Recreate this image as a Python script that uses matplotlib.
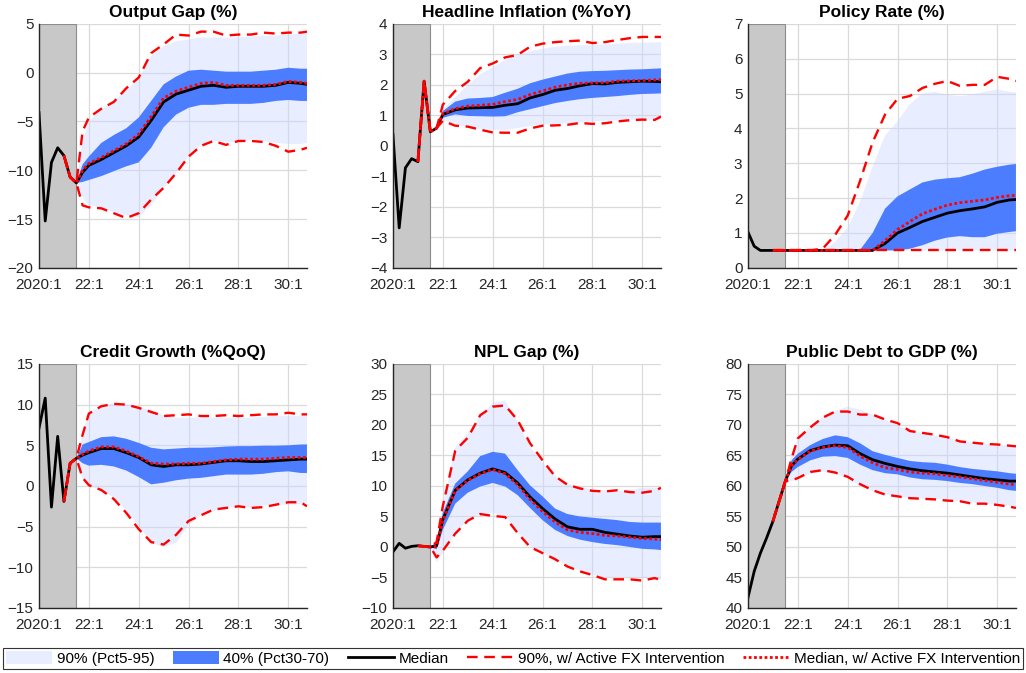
import matplotlib
matplotlib.use("Agg")
from matplotlib import pyplot as plt
from matplotlib.patches import Patch
from matplotlib.lines import Line2D

plt.rc("font", family=["Liberation Sans", "DejaVu Sans"], size=11)

# quarter index: 0 = 2020Q1 ... 43 = 2030Q4
hist_q = [0, 1, 2, 3, 4, 5, 6]
fcst_q = [6, 7, 8, 10, 12, 14, 16, 18, 20, 22, 24, 26, 28, 30, 32, 34, 36, 38, 40, 42, 43]
fx_hist_q = [4, 5]   # the FX-intervention lines also trace the last history points
tick_q = [0, 8, 16, 24, 32, 40]
tick_labels = ["2020:1", "22:1", "24:1", "26:1", "28:1", "30:1"]

# Output gap
gap_hist = [-4.1, -15.2, -9.2, -7.7, -8.5, -10.7, -11.3]
gap_p95 = [-11.3, -7.0, -5.0, -3.8, -2.9, -1.8, -0.6, 1.7, 2.7, 3.2, 3.4, 3.6, 3.6, 3.6, 3.6, 3.7, 3.8, 3.8, 3.9, 4.0, 4.0]
gap_p5 = [-11.3, -12.8, -13.6, -13.8, -14.3, -14.6, -14.8, -13.6, -11.8, -10.3, -8.6, -7.4, -7.0, -7.1, -7.1, -6.9, -7.0, -7.2, -7.3, -7.3, -7.2]
gap_p70 = [-11.3, -9.4, -8.6, -7.2, -6.4, -5.7, -4.6, -2.9, -1.2, -0.4, 0.2, 0.3, 0.2, 0.1, 0.1, 0.1, 0.2, 0.3, 0.5, 0.4, 0.4]
gap_p30 = [-11.3, -11.2, -11.0, -10.6, -10.1, -9.6, -9.2, -7.7, -5.6, -4.3, -3.6, -3.3, -3.3, -3.2, -3.2, -3.2, -3.1, -2.9, -2.8, -2.9, -2.9]
gap_med = [-11.3, -10.2, -9.5, -8.9, -8.2, -7.5, -6.6, -4.9, -3.0, -2.2, -1.8, -1.4, -1.3, -1.5, -1.4, -1.4, -1.4, -1.3, -1.0, -1.1, -1.2]
gap_fx_hi = [-11.3, -6.0, -4.6, -3.7, -3.0, -1.6, -0.5, 2.0, 2.9, 3.9, 3.8, 4.2, 4.2, 3.8, 3.9, 3.9, 4.1, 4.0, 4.1, 4.1, 4.2]
gap_fx_lo = [-11.3, -13.6, -13.8, -13.9, -14.4, -14.9, -14.4, -13.0, -11.8, -10.3, -8.6, -7.5, -7.0, -7.4, -7.0, -7.0, -7.1, -7.5, -8.1, -7.9, -7.7]
gap_fx_med = [-11.3, -10.0, -9.3, -8.7, -8.0, -7.3, -6.3, -4.5, -2.6, -1.9, -1.5, -1.1, -1.0, -1.3, -1.3, -1.3, -1.3, -1.2, -0.9, -1.0, -1.1]

# Headline inflation
infl_hist = [0.37, -2.69, -0.72, -0.42, -0.52, 2.12, 0.46]
infl_p95 = [0.46, 0.58, 1.19, 1.6, 1.98, 2.35, 2.58, 2.82, 3.0, 3.1, 3.18, 3.25, 3.28, 3.3, 3.3, 3.32, 3.35, 3.37, 3.38, 3.39, 3.4]
infl_p5 = [0.46, 0.58, 0.86, 0.7, 0.6, 0.55, 0.53, 0.52, 0.58, 0.65, 0.7, 0.72, 0.74, 0.76, 0.8, 0.82, 0.84, 0.85, 0.86, 0.86, 0.86]
infl_p70 = [0.46, 0.58, 1.14, 1.45, 1.55, 1.57, 1.6, 1.74, 1.87, 2.05, 2.17, 2.27, 2.37, 2.43, 2.45, 2.46, 2.48, 2.5, 2.51, 2.53, 2.54]
infl_p30 = [0.46, 0.58, 0.92, 1.03, 0.98, 0.97, 0.96, 0.97, 1.1, 1.2, 1.3, 1.4, 1.47, 1.53, 1.57, 1.6, 1.63, 1.67, 1.7, 1.71, 1.72]
infl_med = [0.46, 0.58, 1.03, 1.18, 1.24, 1.25, 1.26, 1.33, 1.38, 1.57, 1.68, 1.82, 1.88, 1.97, 2.04, 2.03, 2.08, 2.1, 2.12, 2.11, 2.1]
infl_fx_hi = [0.46, 0.58, 1.35, 1.8, 2.1, 2.55, 2.7, 2.9, 2.98, 3.25, 3.35, 3.4, 3.43, 3.45, 3.37, 3.4, 3.47, 3.53, 3.57, 3.57, 3.57]
infl_fx_lo = [0.46, 0.58, 0.82, 0.66, 0.63, 0.53, 0.44, 0.43, 0.43, 0.57, 0.66, 0.67, 0.69, 0.75, 0.72, 0.74, 0.8, 0.84, 0.86, 0.85, 0.96]
infl_fx_med = [0.46, 0.58, 1.05, 1.22, 1.3, 1.33, 1.36, 1.45, 1.52, 1.68, 1.8, 1.92, 2.0, 2.05, 2.06, 2.07, 2.12, 2.13, 2.14, 2.16, 2.17]

# Policy rate
pol_hist = [1.03, 0.62, 0.5, 0.5, 0.5, 0.5, 0.5]
pol_p95 = [0.5, 0.5, 0.5, 0.5, 0.5, 0.75, 1.15, 1.9, 2.9, 3.8, 4.2, 4.7, 5.0, 5.05, 4.96, 4.92, 4.97, 5.05, 5.12, 5.05, 5.03]
pol_p5 = [0.5, 0.5, 0.5, 0.5, 0.5, 0.5, 0.5, 0.5, 0.5, 0.5, 0.5, 0.5, 0.5, 0.5, 0.5, 0.5, 0.5, 0.5, 0.5, 0.5, 0.5]
pol_p70 = [0.5, 0.5, 0.5, 0.5, 0.5, 0.5, 0.5, 0.52, 1.0, 1.7, 2.05, 2.25, 2.45, 2.53, 2.57, 2.6, 2.7, 2.82, 2.9, 2.96, 2.98]
pol_p30 = [0.5, 0.5, 0.5, 0.5, 0.5, 0.5, 0.5, 0.5, 0.5, 0.5, 0.5, 0.55, 0.65, 0.78, 0.87, 0.91, 0.88, 0.88, 0.98, 1.03, 1.05]
pol_med = [0.5, 0.5, 0.5, 0.5, 0.5, 0.5, 0.5, 0.5, 0.5, 0.7, 1.0, 1.16, 1.33, 1.45, 1.57, 1.64, 1.69, 1.75, 1.88, 1.95, 1.96]
pol_fx_hi = [0.5, 0.5, 0.5, 0.5, 0.55, 0.95, 1.5, 2.5, 3.6, 4.4, 4.85, 4.93, 5.16, 5.28, 5.36, 5.22, 5.25, 5.25, 5.48, 5.42, 5.36]
pol_fx_lo = [0.5, 0.5, 0.5, 0.5, 0.5, 0.5, 0.5, 0.5, 0.5, 0.5, 0.5, 0.5, 0.5, 0.5, 0.5, 0.5, 0.5, 0.5, 0.5, 0.5, 0.5]
pol_fx_med = [0.5, 0.5, 0.5, 0.5, 0.5, 0.5, 0.5, 0.5, 0.5, 0.78, 1.1, 1.33, 1.55, 1.68, 1.8, 1.87, 1.91, 1.95, 2.02, 2.07, 2.08]

# Credit growth
cred_hist = [7.1, 10.8, -2.6, 6.1, -1.9, 2.8, 3.4]
cred_p95 = [3.4, 6.5, 9.0, 9.8, 10.2, 10.1, 9.7, 9.3, 8.7, 8.4, 8.4, 8.4, 8.4, 8.4, 8.4, 8.4, 8.5, 8.6, 8.6, 8.6, 8.6]
cred_p5 = [3.4, 0.9, 0.0, -0.5, -1.4, -3.0, -4.9, -7.0, -7.5, -7.0, -4.8, -3.6, -3.1, -2.7, -2.5, -2.7, -2.4, -2.3, -2.3, -2.2, -2.1]
cred_p70 = [3.4, 5.1, 5.4, 6.0, 6.1, 5.8, 5.3, 4.7, 4.5, 4.6, 4.7, 4.7, 4.75, 4.85, 4.9, 4.9, 4.95, 4.95, 5.0, 5.1, 5.1]
cred_p30 = [3.4, 2.8, 2.5, 2.6, 2.4, 1.9, 1.1, 0.2, 0.4, 0.7, 0.9, 1.0, 1.2, 1.4, 1.4, 1.4, 1.5, 1.7, 1.8, 1.6, 1.6]
cred_med = [3.4, 3.8, 4.1, 4.6, 4.6, 4.1, 3.5, 2.6, 2.4, 2.6, 2.6, 2.7, 2.9, 3.1, 3.1, 3.0, 3.0, 3.1, 3.2, 3.3, 3.3]
cred_fx_hi = [3.4, 6.3, 8.9, 9.8, 10.1, 10.0, 9.6, 9.1, 8.6, 8.7, 8.8, 8.6, 8.6, 8.7, 8.6, 8.7, 8.8, 8.8, 9.0, 8.8, 8.8]
cred_fx_lo = [3.4, 1.0, 0.1, -0.5, -1.6, -3.3, -5.3, -6.9, -7.2, -6.0, -4.3, -3.6, -2.9, -2.7, -2.5, -2.7, -2.6, -2.3, -2.0, -2.0, -2.5]
cred_fx_med = [3.4, 3.9, 4.3, 4.8, 4.8, 4.3, 3.6, 2.8, 2.7, 2.7, 2.8, 2.8, 3.0, 3.2, 3.3, 3.3, 3.3, 3.4, 3.5, 3.5, 3.5]

# NPL gap
npl_hist = [-0.8, 0.6, -0.2, 0.1, 0.2, 0.1, 0.0]
npl_p95 = [0.0, 1.0, 6.7, 16.3, 18.7, 21.4, 23.6, 24.0, 20.5, 16.4, 13.8, 11.7, 10.4, 9.8, 9.4, 9.3, 9.2, 9.3, 9.7, 9.7, 9.7]
npl_p5 = [0.0, -2.5, -1.0, 2.2, 4.5, 5.3, 5.6, 5.0, 2.5, 0.1, -1.0, -2.0, -3.0, -3.9, -4.6, -5.0, -4.9, -4.9, -5.1, -5.3, -5.4]
npl_p70 = [0.0, 0.8, 5.6, 10.4, 12.4, 14.9, 15.6, 15.3, 12.6, 10.1, 8.3, 6.3, 5.4, 5.0, 4.8, 4.6, 4.4, 4.1, 4.0, 4.0, 4.0]
npl_p30 = [0.0, -0.4, 2.8, 7.1, 8.9, 9.9, 10.5, 9.9, 8.5, 6.4, 4.4, 2.8, 1.8, 1.2, 0.8, 0.5, 0.3, 0.0, -0.3, -0.4, -0.5]
npl_med = [0.0, 0.2, 4.5, 9.3, 11.0, 12.1, 12.8, 12.2, 10.5, 8.2, 6.3, 4.6, 3.3, 2.9, 2.9, 2.4, 2.1, 1.8, 1.6, 1.7, 1.7]
npl_fx_hi = [0.0, 0.8, 6.7, 15.8, 17.9, 21.6, 23.0, 23.2, 20.8, 17.0, 14.2, 11.6, 10.2, 9.6, 9.2, 9.1, 9.3, 9.0, 8.9, 9.2, 9.7]
npl_fx_lo = [0.0, -1.7, -0.6, 2.2, 4.3, 5.4, 5.1, 4.9, 2.3, 0.0, -1.0, -2.0, -3.2, -4.0, -4.6, -5.3, -5.3, -5.3, -5.5, -5.1, -5.4]
npl_fx_med = [0.0, 0.1, 4.3, 9.2, 10.9, 12.0, 12.7, 12.0, 10.2, 7.8, 5.8, 4.1, 2.8, 2.4, 2.2, 1.9, 1.8, 1.6, 1.4, 1.3, 1.2]

# Public debt to GDP
debt_hist = [41.7, 46.0, 49.0, 51.5, 54.2, 57.5, 60.8]
debt_p95 = [60.8, 65.5, 67.8, 69.8, 71.3, 72.3, 73.0, 72.5, 71.7, 70.9, 69.9, 69.1, 68.7, 68.3, 67.9, 67.4, 67.1, 66.9, 66.8, 66.6, 66.5]
debt_p5 = [60.8, 60.8, 61.2, 62.0, 62.4, 62.0, 61.3, 60.0, 59.2, 58.6, 58.3, 58.0, 57.9, 57.9, 57.8, 57.5, 57.3, 57.1, 56.9, 56.7, 56.6]
debt_p70 = [60.8, 64.2, 65.3, 66.7, 67.7, 68.3, 68.0, 67.0, 65.7, 65.1, 64.6, 64.1, 63.9, 63.8, 63.5, 63.1, 62.8, 62.6, 62.4, 62.1, 62.0]
debt_p30 = [60.8, 62.3, 63.1, 64.2, 64.8, 64.9, 64.6, 63.5, 62.6, 62.1, 61.9, 61.4, 61.1, 61.0, 60.8, 60.5, 60.3, 60.0, 59.7, 59.3, 59.2]
debt_med = [60.8, 63.3, 64.4, 65.8, 66.4, 66.7, 66.6, 65.3, 64.3, 63.7, 63.2, 62.8, 62.5, 62.3, 62.1, 61.8, 61.5, 61.2, 61.0, 60.8, 60.8]
debt_fx_hi = [60.8, 64.5, 67.8, 69.6, 71.2, 72.2, 72.2, 71.7, 71.7, 70.9, 70.3, 69.0, 68.7, 68.4, 68.0, 67.3, 67.1, 66.9, 66.8, 66.6, 66.5]
debt_fx_lo = [60.8, 60.9, 61.3, 62.3, 62.6, 62.2, 61.5, 60.3, 59.3, 58.6, 58.3, 58.0, 57.9, 57.8, 57.6, 57.5, 57.1, 57.1, 56.9, 56.6, 56.4]
debt_fx_med = [60.8, 63.3, 64.3, 65.7, 66.3, 66.6, 66.3, 64.9, 63.8, 63.0, 62.7, 62.3, 62.1, 62.0, 61.7, 61.5, 61.2, 60.9, 60.6, 60.3, 60.2]

panels = [
    ("Output Gap (%)", (-20, 5), 5, gap_hist, gap_p5, gap_p95, gap_p30, gap_p70, gap_med, gap_fx_lo, gap_fx_hi, gap_fx_med),
    ("Headline Inflation (%YoY)", (-4, 4), 1, infl_hist, infl_p5, infl_p95, infl_p30, infl_p70, infl_med, infl_fx_lo, infl_fx_hi, infl_fx_med),
    ("Policy Rate (%)", (0, 7), 1, pol_hist, pol_p5, pol_p95, pol_p30, pol_p70, pol_med, pol_fx_lo, pol_fx_hi, pol_fx_med),
    ("Credit Growth (%QoQ)", (-15, 15), 5, cred_hist, cred_p5, cred_p95, cred_p30, cred_p70, cred_med, cred_fx_lo, cred_fx_hi, cred_fx_med),
    ("NPL Gap (%)", (-10, 30), 5, npl_hist, npl_p5, npl_p95, npl_p30, npl_p70, npl_med, npl_fx_lo, npl_fx_hi, npl_fx_med),
    ("Public Debt to GDP (%)", (40, 80), 5, debt_hist, debt_p5, debt_p95, debt_p30, debt_p70, debt_med, debt_fx_lo, debt_fx_hi, debt_fx_med),
]

light = (0.80, 0.85, 1.0)
dark = "#4C7DFE"
grey = "#C8C8C8"
axcol = "#262626"

fig = plt.figure(figsize=(10.26, 6.73), dpi=100)
lefts = [0.038, 0.383, 0.729]
bottoms = [0.602, 0.0966]
w, h = 0.2612, 0.3626

for k, (title, ylim, ystep, hist, p5, p95, p30, p70, med, fxlo, fxhi, fxmed) in enumerate(panels):
    ax = fig.add_axes([lefts[k % 3], bottoms[k // 3], w, h])
    ax.set_axisbelow(True)
    ax.grid(True, color="#DADADA", linewidth=0.9)

    ax.axvspan(hist_q[0], hist_q[-1], facecolor=grey, edgecolor="#8C8C8C", linewidth=0.8, zorder=1)
    ax.fill_between(fcst_q, p5, p95, facecolor=light, alpha=0.45, linewidth=0, zorder=2)
    ax.fill_between(fcst_q, p30, p70, facecolor=dark, linewidth=0, zorder=3)

    ax.plot(hist_q + fcst_q[1:], hist + med[1:], color="black", linewidth=2.0, zorder=4)
    fx_x = fx_hist_q + fcst_q
    for series in (fxhi, fxlo):
        ax.plot(fx_x, hist[4:6] + series, color="red", linewidth=1.7, dashes=(4.5, 2.8), zorder=5)
    ax.plot(fx_x, hist[4:6] + fxmed, color="red", linewidth=2.0, dashes=(1.0, 0.9), zorder=6)

    ax.set_xlim(0, 43)
    ax.set_ylim(*ylim)
    ax.set_yticks(range(ylim[0], ylim[1] + 1, ystep))
    ax.set_xticks(tick_q)
    ax.set_xticklabels(tick_labels)
    ax.tick_params(length=0, colors=axcol, labelsize=11)
    ax.tick_params(axis="x", pad=7)
    ax.tick_params(axis="y", pad=4)
    for side in ("top", "right"):
        ax.spines[side].set_visible(False)
    for side in ("left", "bottom"):
        ax.spines[side].set_color(axcol)
        ax.spines[side].set_linewidth(1.0)
        ax.spines[side].set_zorder(7)
    ax.set_title(title, fontsize=12.5, fontweight="bold", pad=5)

handles = [
    Patch(facecolor=light, alpha=0.45, edgecolor="none"),
    Patch(facecolor=dark, edgecolor="none"),
    Line2D([], [], color="black", linewidth=2.0),
    Line2D([], [], color="red", linewidth=1.7, dashes=(4.5, 2.8)),
    Line2D([], [], color="red", linewidth=2.0, dashes=(1.0, 0.9)),
]
labels = ["90% (Pct5-95)", "40% (Pct30-70)", "Median",
          "90%, w/ Active FX Intervention", "Median, w/ Active FX Intervention"]
leg = fig.legend(handles, labels, loc="lower left", ncol=5, mode="expand",
                 bbox_to_anchor=(0.003, 0.006, 0.994, 0.033), fontsize=11,
                 handlelength=3.0, handleheight=0.9, handletextpad=0.3,
                 borderpad=0.2, fancybox=False, framealpha=1, borderaxespad=0)
leg.get_frame().set_edgecolor("#333333")
leg.get_frame().set_linewidth(0.8)

fig.savefig("out.png", dpi=100)
